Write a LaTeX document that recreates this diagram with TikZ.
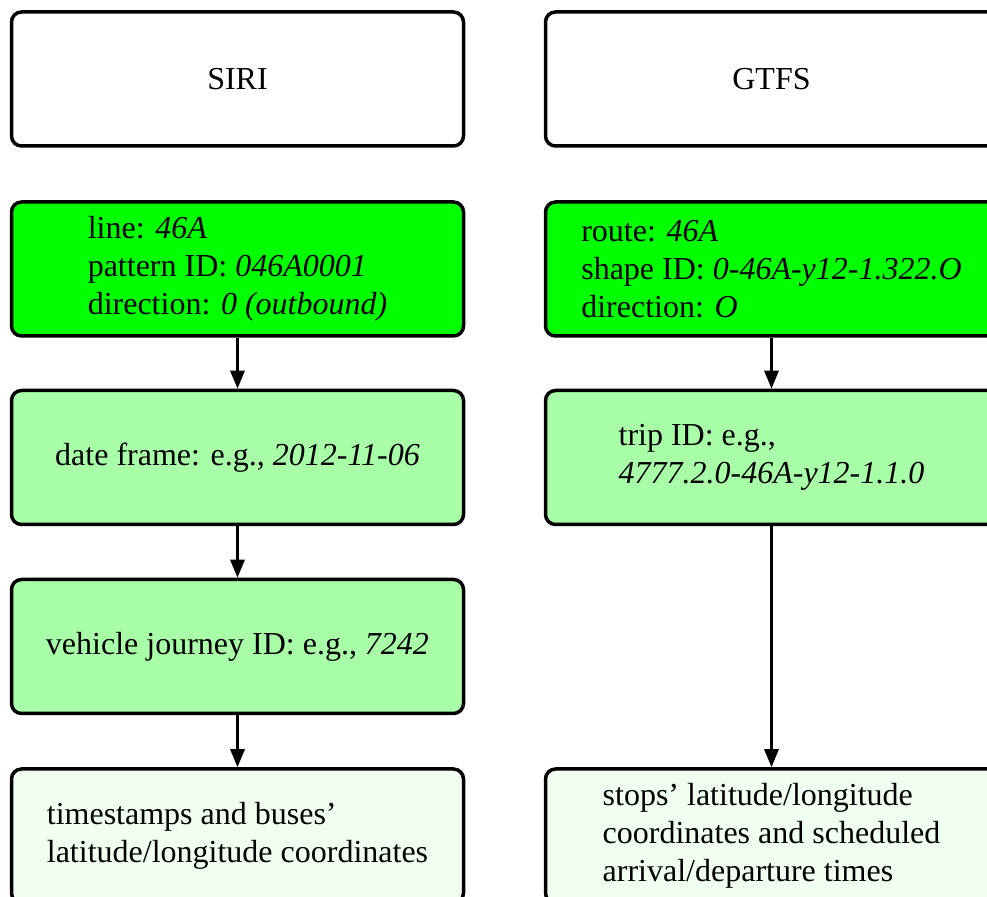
\documentclass[tikz,border=0pt]{standalone}
\usepackage{fontspec}
\setmainfont{Liberation Serif}
\usetikzlibrary{arrows.meta}

\definecolor{rawgreen}{RGB}{0,255,0}
\definecolor{midgreen}{RGB}{168,255,168}
\definecolor{palegreen}{RGB}{240,255,240}

\begin{document}
\begin{tikzpicture}[
    x=0.5pt, y=-0.5pt,
    box/.style={
        rectangle,
        rounded corners=5pt,
        minimum width=226pt,
        minimum height=67pt,
        draw=black,
        line width=1.75pt,
        fill=#1,
        align=left,
        font=\fontsize{16}{19}\selectfont
    },
    arrow/.style={-{Triangle[length=9pt,width=7pt]}, line width=1.5pt}
]
\useasboundingbox (0,0) rectangle (987,897);

% SIRI side
\node[box=white] (siri) at (237.5,79) {SIRI};
\node[box=rawgreen] (line) at (237.5,269) {line: \textit{46A}\\pattern ID: \textit{046A0001}\\direction: \textit{0 (outbound)}};
\node[box=midgreen] (date) at (237.5,457.5) {date frame: e.g., \textit{2012-11-06}};
\node[box=midgreen] (journey) at (237.5,646.5) {vehicle journey ID: e.g., \textit{7242}};
\node[box=palegreen] (buses) at (237.5,836) {timestamps and buses'\\latitude/longitude coordinates};

% GTFS side
\node[box=white] (gtfs) at (771.5,79) {GTFS};
\node[box=rawgreen] (route) at (771.5,269) {route: \textit{46A}\\shape ID: \textit{0-46A-y12-1.322.O}\\direction: \textit{O}};
\node[box=midgreen] (trip) at (771.5,457.5) {trip ID: e.g.,\\\textit{4777.2.0-46A-y12-1.1.0}};
\node[box=palegreen] (stops) at (771.5,836) {stops' latitude/longitude\\coordinates and scheduled\\arrival/departure times};

\draw[arrow] (line) -- (date);
\draw[arrow] (date) -- (journey);
\draw[arrow] (journey) -- (buses);
\draw[arrow] (route) -- (trip);
\draw[arrow] (trip) -- (stops);

\end{tikzpicture}
\end{document}
